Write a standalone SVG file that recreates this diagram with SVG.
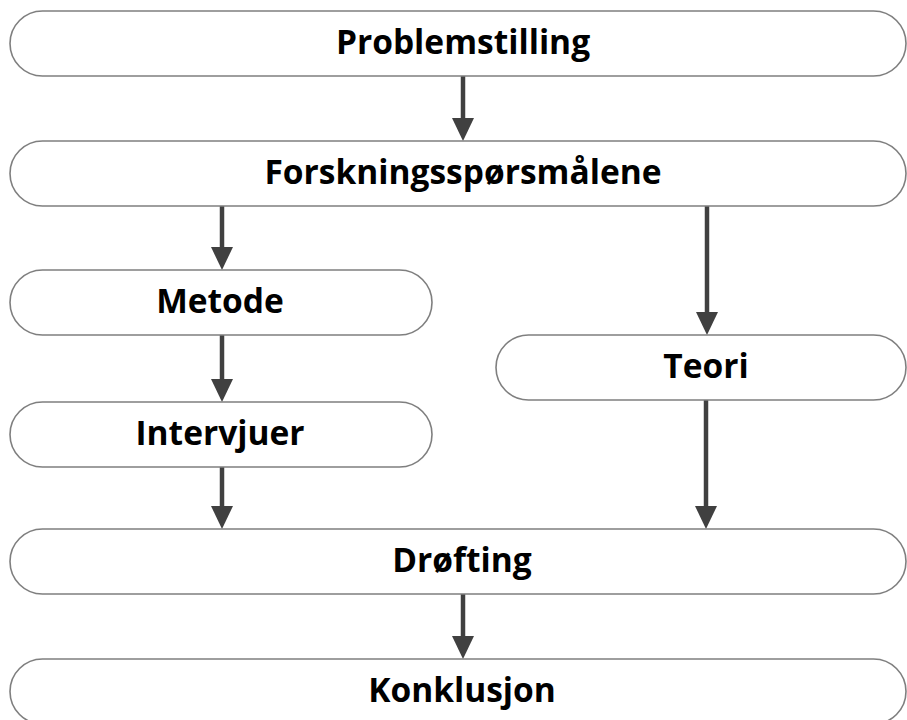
<svg xmlns="http://www.w3.org/2000/svg" width="907" height="720" viewBox="0 0 907 720">
  <style>
    .box { fill: #ffffff; stroke: #7f7f7f; stroke-width: 1.6; }
    .lbl { font-family: "Open Sans", "Liberation Sans", sans-serif; font-weight: bold; font-size: 33.5px; fill: #000000; text-anchor: middle; }
    .conn { stroke: #404040; stroke-width: 4.5; fill: none; marker-end: url(#head); }
  </style>
  <defs>
    <!-- triangular arrowhead; the shaft ends 3px inside its base, tip 20px past the shaft end -->
    <marker id="head" markerUnits="userSpaceOnUse" markerWidth="23" markerHeight="22" viewBox="0 0 23 22" refX="3" refY="11" orient="auto">
      <polygon points="0,0 23,11 0,22" fill="#404040"/>
    </marker>
  </defs>
  <rect width="907" height="720" fill="#ffffff"/>

  <g id="connectors">
    <line class="conn" x1="463" y1="76" x2="463" y2="121"/>
    <line class="conn" x1="222" y1="206" x2="222" y2="250"/>
    <line class="conn" x1="707" y1="206" x2="707" y2="315"/>
    <line class="conn" x1="222" y1="335" x2="222" y2="382"/>
    <line class="conn" x1="222" y1="467" x2="222" y2="509"/>
    <line class="conn" x1="706" y1="400" x2="706" y2="509"/>
    <line class="conn" x1="463" y1="594" x2="463" y2="639"/>
  </g>

  <g id="problemstilling">
    <rect class="box" x="10" y="11" width="896" height="65" rx="32.5"/>
    <text class="lbl" x="463" y="54">Problemstilling</text>
  </g>
  <g id="forskningssporsmalene">
    <rect class="box" x="10" y="141" width="896" height="65" rx="32.5"/>
    <text class="lbl" x="463" y="184">Forskningsspørsmålene</text>
  </g>
  <g id="metode">
    <rect class="box" x="10" y="270" width="422" height="65" rx="32.5"/>
    <text class="lbl" x="220" y="313">Metode</text>
  </g>
  <g id="teori">
    <rect class="box" x="496" y="335" width="410" height="65" rx="32.5"/>
    <text class="lbl" x="706" y="378">Teori</text>
  </g>
  <g id="intervjuer">
    <rect class="box" x="10" y="402" width="422" height="65" rx="32.5"/>
    <text class="lbl" x="220" y="445">Intervjuer</text>
  </g>
  <g id="drofting">
    <rect class="box" x="10" y="529" width="896" height="65" rx="32.5"/>
    <text class="lbl" x="462" y="572">Drøfting</text>
  </g>
  <g id="konklusjon">
    <rect class="box" x="10" y="659" width="896" height="65" rx="32.5"/>
    <text class="lbl" x="462" y="702">Konklusjon</text>
  </g>
</svg>
